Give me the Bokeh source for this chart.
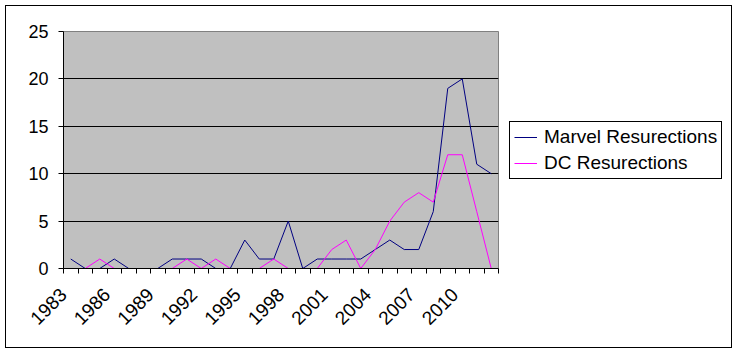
import math
from bokeh.plotting import figure
from bokeh.models import FixedTicker, Legend, LegendItem, Range1d
from bokeh.embed import file_html
from bokeh.resources import INLINE

years = list(range(1983, 2013))
marvel = [1, 0, 0, 1, 0, 0, 0, 1, 1, 1, 0, 0, 3, 1, 1, 5, 0, 1, 1, 1,
          1, 2, 3, 2, 2, 6, 19, 20, 11, 10]
dc = [0, 0, 1, 0, 0, 0, 0, 0, 1, 0, 1, 0, 0, 0, 1, 0, 0, 0, 2, 3,
      0, 2, 5, 7, 8, 7, 12, 12, 6, 0]
label_years = years[::3]
y_ticks = [0, 5, 10, 15, 20, 25]

FONT = "Liberation Sans"

p = figure(width=738, height=353, frame_width=435, frame_height=237,
           output_backend="svg", toolbar_location=None,
           x_range=Range1d(years[0] - 0.5, years[-1] + 0.5), y_range=Range1d(0, 25),
           min_border_left=63, min_border_right=240, min_border_top=31, min_border_bottom=85)
p.background_fill_color = "#C0C0C0"
p.border_fill_alpha = 0
p.outline_line_color = "#808080"
p.outline_line_width = 1
# white page with the thin black outer chart border
p.styles = {
    "background-color": "white",
    "background-image": "linear-gradient(#000,#000), linear-gradient(#000,#000), "
                        "linear-gradient(#000,#000), linear-gradient(#000,#000)",
    "background-size": "727px 1px, 727px 1px, 1px 343px, 1px 343px",
    "background-position": "5px 5px, 5px 347px, 5px 5px, 731px 5px",
    "background-repeat": "no-repeat",
}

p.xgrid.visible = False
p.ygrid.ticker = FixedTicker(ticks=[5, 10, 15, 20])
p.ygrid.grid_line_color = "black"
p.ygrid.grid_line_width = 1

# category boundaries carry the tick marks; every third one carries a year label
boundaries = [y - 0.5 for y in years] + [years[-1] + 0.5]
overrides = {b: "" for b in boundaries}
for yr in label_years:
    overrides[yr - 0.5] = str(yr)

xa = p.xaxis[0]
xa.ticker = FixedTicker(ticks=boundaries)
xa.major_label_overrides = overrides
xa.major_tick_out = 5
xa.major_tick_in = 0
xa.major_tick_line_color = "black"
xa.minor_tick_out = 0
xa.minor_tick_in = 0
xa.axis_line_color = "black"
xa.major_label_orientation = math.pi / 4
xa.major_label_text_font = FONT
xa.major_label_text_font_size = "19px"
xa.major_label_text_color = "black"
xa.major_label_standoff = 18

ya = p.yaxis[0]
ya.ticker = FixedTicker(ticks=y_ticks)
ya.major_tick_out = 5
ya.major_tick_in = 0
ya.minor_tick_out = 0
ya.minor_tick_in = 0
ya.axis_line_color = "black"
ya.major_tick_line_color = "black"
ya.major_label_text_font = FONT
ya.major_label_text_font_size = "18px"
ya.major_label_text_color = "black"
ya.major_label_standoff = 10

r1 = p.line(years, marvel, line_color="#000080", line_width=1)
r2 = p.line(years, dc, line_color="#FF00FF", line_width=1)

legend = Legend(items=[LegendItem(label="Marvel Resurections", renderers=[r1]),
                       LegendItem(label="DC Resurections", renderers=[r2])],
                location="center_left", orientation="vertical")
legend.label_text_font = FONT
legend.label_text_font_size = "19px"
legend.label_text_color = "black"
legend.border_line_color = "black"
legend.border_line_width = 1
legend.border_line_alpha = 1
legend.background_fill_color = "white"
legend.background_fill_alpha = 1
legend.padding = 4
legend.spacing = 4
legend.glyph_width = 23
legend.glyph_height = 20
legend.label_height = 20
legend.label_standoff = 7
legend.margin = 11
p.add_layout(legend, "right")

open("out.html", "w").write(file_html(p, INLINE))
